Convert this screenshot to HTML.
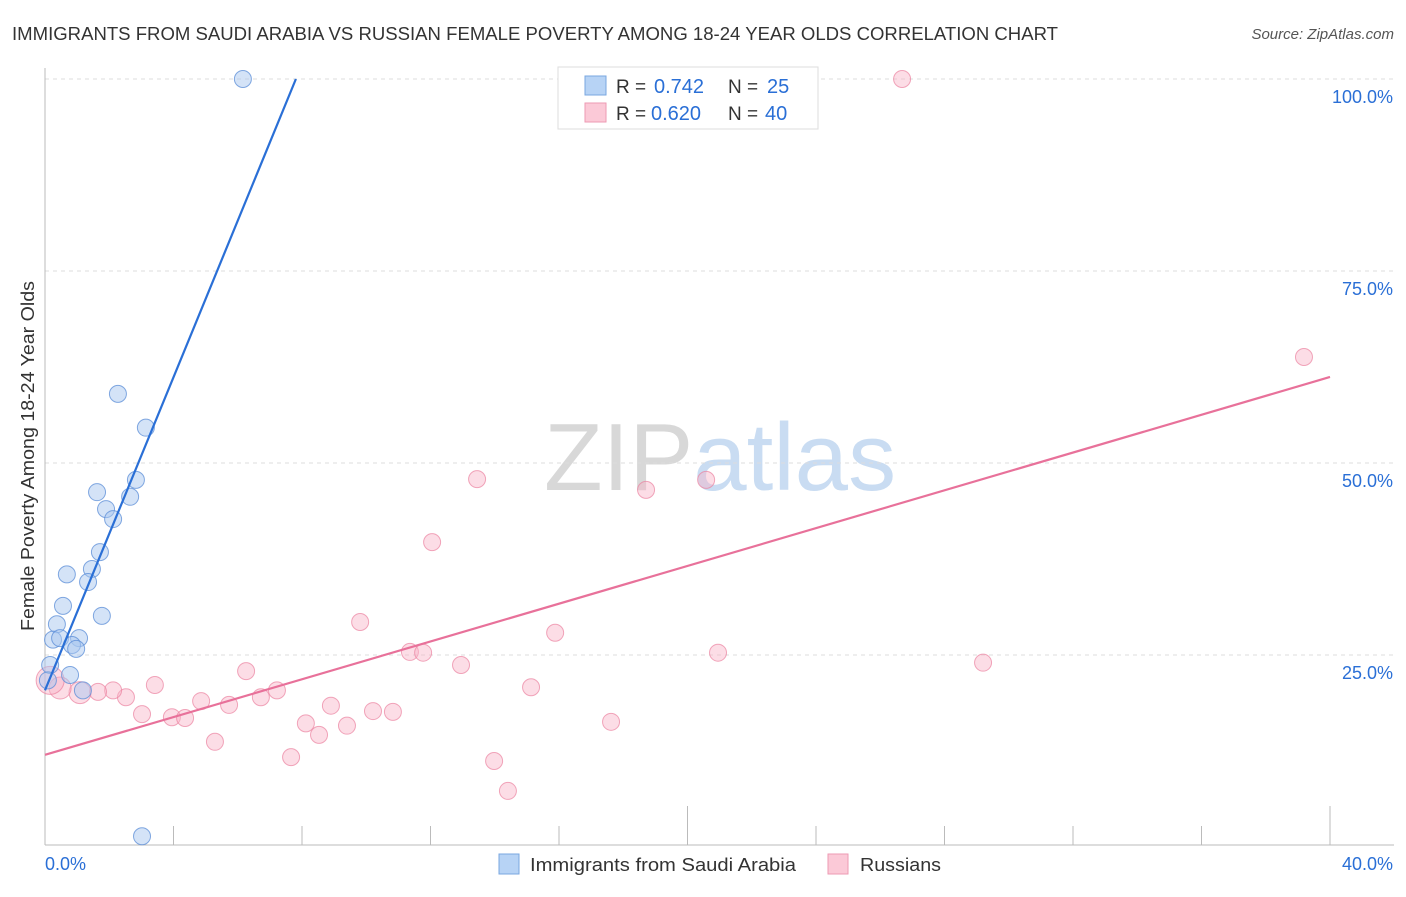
<!DOCTYPE html>
<html><head><meta charset="utf-8"><style>
body{margin:0;background:#fff;font-family:"Liberation Sans",sans-serif;}
svg text{font-family:"Liberation Sans",sans-serif;}
</style></head><body>
<svg id="chart" width="1406" height="892" xmlns="http://www.w3.org/2000/svg">
<text x="12" y="40" font-size="18" fill="#333" textLength="1046" lengthAdjust="spacingAndGlyphs">IMMIGRANTS FROM SAUDI ARABIA VS RUSSIAN FEMALE POVERTY AMONG 18-24 YEAR OLDS CORRELATION CHART</text>
<text x="1394" y="39" font-size="15" fill="#555" font-style="italic" text-anchor="end">Source: ZipAtlas.com</text>
<text x="720" y="490" font-size="96" text-anchor="middle" fill="#ddd" font-family="Liberation Serif"><tspan fill="#d8d8d8">ZIP</tspan><tspan fill="#c9dcf2" font-family="Liberation Sans">atlas</tspan></text>
<text transform="translate(34,456) rotate(-90)" font-size="18" fill="#333" text-anchor="middle" textLength="350" lengthAdjust="spacingAndGlyphs">Female Poverty Among 18-24 Year Olds</text>
<g id="grid"></g><g id="axes"></g><g id="marks"></g>
<g>
<rect x="558" y="67" width="260" height="62" fill="#fff" stroke="#ddd"/>
<rect x="585" y="76" width="21" height="19" fill="#b7d3f5" stroke="#7aa7e0"/>
<text x="616" y="93" font-size="19" fill="#333">R =</text><text x="654" y="93" font-size="20" fill="#2a6fd6">0.742</text>
<text x="728" y="93" font-size="19" fill="#333">N =</text><text x="767" y="93" font-size="20" fill="#2a6fd6">25</text>
<rect x="585" y="103" width="21" height="19" fill="#fbc9d7" stroke="#ee9ab3"/>
<text x="616" y="120" font-size="19" fill="#333">R =</text><text x="651" y="120" font-size="20" fill="#2a6fd6">0.620</text>
<text x="728" y="120" font-size="19" fill="#333">N =</text><text x="765" y="120" font-size="20" fill="#2a6fd6">40</text>
</g>
<g>
<rect x="499" y="854" width="20" height="20" fill="#b7d3f5" stroke="#7aa7e0"/>
<text x="530" y="871" font-size="18" fill="#333" textLength="266" lengthAdjust="spacingAndGlyphs">Immigrants from Saudi Arabia</text>
<rect x="828" y="854" width="20" height="20" fill="#fbc9d7" stroke="#ee9ab3"/>
<text x="860" y="871" font-size="18" fill="#333" textLength="81" lengthAdjust="spacingAndGlyphs">Russians</text>
</g>
</svg>
<script>
const xTicks=[0,40];
const yTicks=[25,50,75,100];
const saudiX=[6.16,3.14,2.27,1.62,2.65,2.83,1.90,2.12,1.71,1.46,1.34,0.68,0.56,1.77,0.37,0.25,0.47,1.06,0.84,0.97,0.16,0.78,1.18,3.02,0.09];
const saudiY=[100,54.6,59.0,46.2,45.6,47.8,44.0,42.7,38.4,36.2,34.5,35.5,31.4,30.1,29.0,27.0,27.2,27.2,26.3,25.8,23.7,22.4,20.4,1.4,21.7];
const rusX=[26.68,39.19,13.45,18.71,20.58,12.05,9.81,15.88,11.36,11.77,20.95,29.2,12.95,6.26,15.13,3.42,7.22,4.86,5.73,6.72,8.9,10.21,10.83,2.52,2.12,1.65,3.02,3.95,4.36,8.12,9.4,17.62,8.53,5.29,7.66,13.98,14.41,1.09,0.47,0.16];
const rusY=[100,63.8,47.9,46.5,47.8,39.7,29.3,27.9,25.4,25.3,25.3,24.0,23.7,22.9,20.8,21.1,20.4,19.0,18.5,19.5,18.4,17.7,17.6,19.5,20.4,20.2,17.3,16.9,16.8,16.1,15.8,16.3,14.6,13.7,11.7,11.2,7.3,20.1,20.7,21.7];
const saudiLine=[0,20.4,7.81,100];
const rusLine=[0,12.0,40,61.2];
const X=v=>45+v/40*1285, Y=v=>847-v/100*768;
const NS="http://www.w3.org/2000/svg";
function mk(t,a,p){const e=document.createElementNS(NS,t);for(const k in a)e.setAttribute(k,a[k]);p.appendChild(e);return e;}
const grid=document.getElementById('grid'),axes=document.getElementById('axes'),marks=document.getElementById('marks');
yTicks.forEach(v=>{
 const l=mk('line',{x1:45,x2:1394,y1:Y(v),y2:Y(v),stroke:'#ddd','stroke-dasharray':'4,4'},grid);
 
 
 const t=mk('text',{x:1393,y:Y(v)+24,'font-size':18,fill:'#2a6fd6','text-anchor':'end'},axes);
 t.textContent=v.toFixed(1)+'%';
 
 
});
const ax=mk('line',{x1:45,x2:1394,y1:845,y2:845,stroke:'#bbb'},axes);


const ay=mk('line',{x1:45,x2:45,y1:68,y2:845,stroke:'#bbb'},axes);


for(let i=0;i<=10;i++){
 const v=i*4;
 const tk=mk('line',{x1:X(v),x2:X(v),y1:(i%5==0&&i>0)?806:826,y2:845,stroke:'#bbb'},axes);
 
 
}
xTicks.forEach((v,i)=>{
 const t=mk('text',{x:i?1393:45,y:870,'font-size':18,fill:'#2a6fd6','text-anchor':i?'end':'start'},axes);
 t.textContent=v.toFixed(1)+'%';
 
 
});
rusX.forEach((x,i)=>{
 const c=mk('circle',{cx:X(x),cy:Y(rusY[i]),r:(i>=37)?(i==39?14:11):8.5,fill:'rgba(248,180,200,0.45)',stroke:'rgba(235,130,160,0.7)'},marks);
 
 
});
saudiX.forEach((x,i)=>{
 const c=mk('circle',{cx:X(x),cy:Y(saudiY[i]),r:8.5,fill:'rgba(170,200,240,0.5)',stroke:'rgba(90,140,215,0.75)'},marks);
 
 
});
const bl=mk('line',{x1:X(saudiLine[0]),y1:Y(saudiLine[1]),x2:X(saudiLine[2]),y2:Y(saudiLine[3]),stroke:'#2a6fd6','stroke-width':2.2},marks);


const pl=mk('line',{x1:X(rusLine[0]),y1:Y(rusLine[1]),x2:X(rusLine[2]),y2:Y(rusLine[3]),stroke:'#e8719a','stroke-width':2.2},marks);


</script>
</body></html>
